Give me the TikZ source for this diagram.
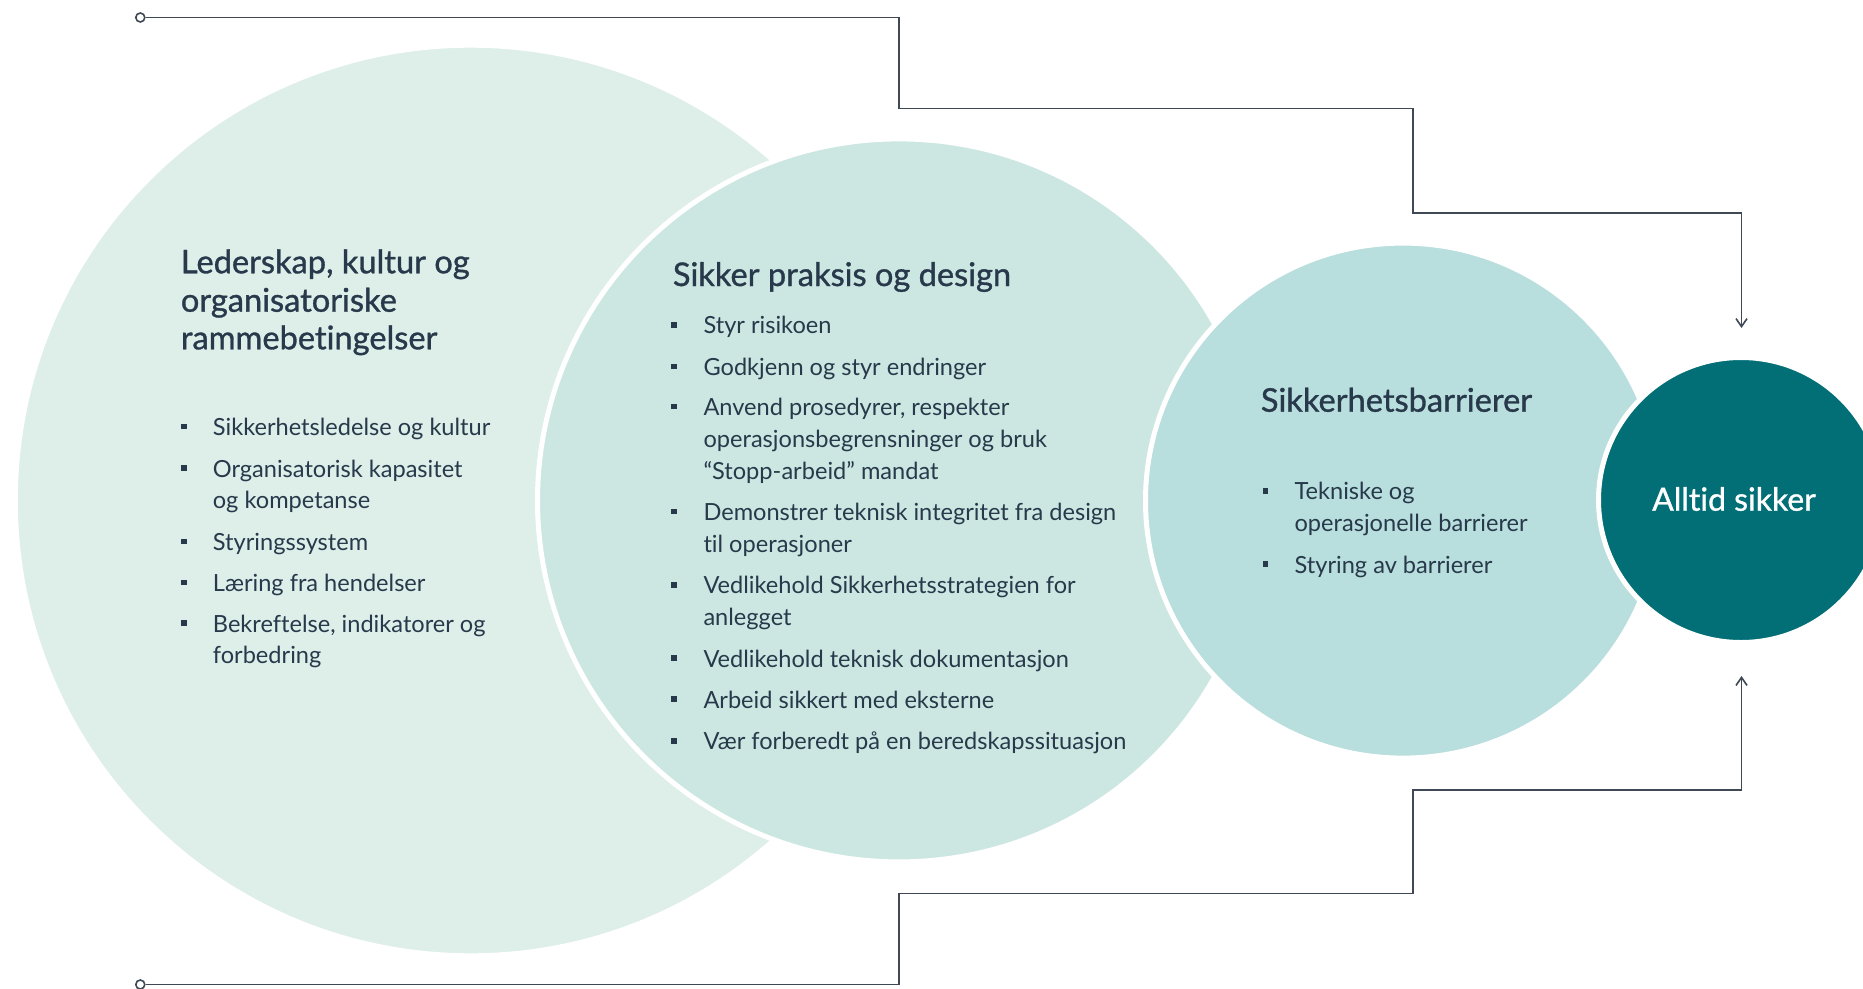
\documentclass[tikz,border=0pt]{standalone}
\usepackage{fontspec}
\setmainfont[Ligatures=NoCommon]{Lato}
\newfontfamily\titlefont[FakeBold=1,Ligatures=NoCommon]{Lato}
\usetikzlibrary{arrows.meta}
\definecolor{txt}{HTML}{27394A}
\definecolor{ln}{HTML}{3E4955}
\definecolor{cA}{HTML}{DEEEE9}
\definecolor{cB}{HTML}{CCE7E2}
\definecolor{cC}{HTML}{B8DEDD}
\definecolor{cD}{HTML}{026E76}
\begin{document}
\begin{tikzpicture}[x=1pt,y=-1pt,
  disc/.style={circle,inner sep=0pt,outer sep=0pt,draw=white,line width=5pt},
  ttl/.style={anchor=base west,inner sep=0pt,text=txt,font=\titlefont\fontsize{32.6}{38}\selectfont},
  itm/.style={anchor=base west,inner sep=0pt,text=txt,font=\fontsize{23.6}{31.7}\selectfont},
  bul/.style={rectangle,fill=txt,minimum size=5.8pt,inner sep=0pt},
  wire/.style={draw=ln,line width=1.6pt},
  tip/.style={-{Straight Barb[length=8pt,width=11pt]}},
  dot/.style={circle,draw=ln,fill=white,line width=1.6pt,minimum size=9pt,inner sep=0pt}]
\useasboundingbox (0,0) rectangle (1863,988);
\clip (0,0) rectangle (1863,988);
% circles
\node[disc,fill=cA,minimum size=910.6pt] (c1) at (470.6,500.5) {};
\node[disc,fill=cB,minimum size=723pt] (c2) at (899,500.4) {};
\node[disc,fill=cC,minimum size=515pt] (c3) at (1403,500.6) {};
\node[disc,fill=cD,minimum size=285pt] (c4) at (1741,500) {};
% connectors
\node[dot] (tdot) at (140.3,17.5) {};
\node[dot] (bdot) at (140.3,984.5) {};
\coordinate (tend) at (1741.5,328);
\coordinate (bend) at (1741.5,676);
\draw[wire,tip] (tdot.east) -- (899,17.5) -- (899,108.5) -- (1413,108.5) -- (1413,212.7) -- (1741.5,212.7) -- (tend);
\draw[wire,tip] (bdot.east) -- (899,984.5) -- (899,893.3) -- (1413,893.3) -- (1413,790) -- (1741.5,790) -- (bend);
% circle 1 text
\node[ttl] (t1a) at (180.7,273.3) {Lederskap, kultur og};
\node[ttl] (t1b) at (180.7,311.7) {organisatoriske};
\node[ttl] (t1c) at (180.7,349.3) {rammebetingelser};
\begin{scope}[yshift=-2pt]
\node[bul] (b1a) at (183.7,424.5) {};
\node[itm] (l1a) at (212.7,433.3) {Sikkerhetsledelse og kultur};
\node[bul] (b1b) at (183.7,466.2) {};
\node[itm] (l1b) at (212.7,475) {Organisatorisk kapasitet};
\node[itm] (l1c) at (212.7,506.7) {og kompetanse};
\node[bul] (b1c) at (183.7,539.5) {};
\node[itm] (l1d) at (212.7,548.3) {Styringssystem};
\node[bul] (b1d) at (183.7,580.5) {};
\node[itm] (l1e) at (212.7,589.3) {Læring fra hendelser};
\node[bul] (b1e) at (183.7,621.2) {};
\node[itm] (l1f) at (212.7,630) {Bekreftelse, indikatorer og};
\node[itm] (l1g) at (212.7,661.7) {forbedring};
\end{scope}
% circle 2 text
\node[ttl] (t2) at (672.7,286) {Sikker praksis og design};
\begin{scope}[yshift=-2pt]
\node[bul] (b2a) at (674.2,322.9) {};
\node[itm] (l2a) at (703.3,331.7) {Styr risikoen};
\node[bul] (b2b) at (674.2,364.5) {};
\node[itm] (l2b) at (703.3,373.3) {Godkjenn og styr endringer};
\node[bul] (b2c) at (674.2,404.5) {};
\node[itm] (l2c) at (703.3,413.3) {Anvend prosedyrer, respekter};
\node[itm] (l2d) at (703.3,445) {operasjonsbegrensninger og bruk};
\node[itm] (l2e) at (703.3,477.3) {“Stopp-arbeid” mandat};
\node[bul] (b2d) at (674.2,509.5) {};
\node[itm] (l2f) at (703.3,518.3) {Demonstrer teknisk integritet fra design};
\node[itm] (l2g) at (703.3,550) {til operasjoner};
\node[bul] (b2e) at (674.2,582.9) {};
\node[itm] (l2h) at (703.3,591.7) {Vedlikehold Sikkerhetsstrategien for};
\node[itm] (l2i) at (703.3,623.3) {anlegget};
\node[bul] (b2f) at (674.2,656.2) {};
\node[itm] (l2j) at (703.3,665) {Vedlikehold teknisk dokumentasjon};
\node[bul] (b2g) at (674.2,697.2) {};
\node[itm] (l2k) at (703.3,706) {Arbeid sikkert med eksterne};
\node[bul] (b2h) at (674.2,738.9) {};
\node[itm] (l2l) at (703.3,747.7) {Vær forberedt på en beredskapssituasjon};
\end{scope}
% circle 3 text
\node[ttl] (t3) at (1260.7,411.7) {Sikkerhetsbarrierer};
\begin{scope}[yshift=-1.5pt]
\node[bul] (b3a) at (1265.5,489.5) {};
\node[itm] (l3a) at (1294.4,498.3) {Tekniske og};
\node[itm] (l3b) at (1294.4,530) {operasjonelle barrierer};
\node[bul] (b3b) at (1265.5,562.7) {};
\node[itm] (l3c) at (1294.4,571.5) {Styring av barrierer};
\end{scope}
% circle 4 text
\node[anchor=base,inner sep=0pt,text=white,font=\titlefont\fontsize{32}{38}\selectfont] (t4) at (1734,510.7) {Alltid sikker};
\end{tikzpicture}
\end{document}
